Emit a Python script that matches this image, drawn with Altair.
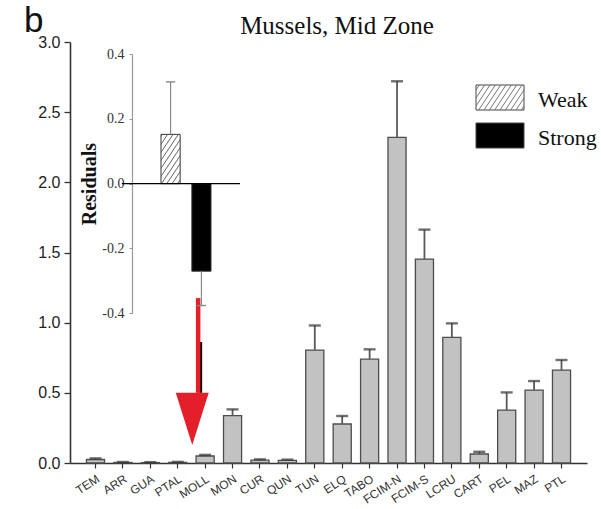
import numpy as np
import pandas as pd
import altair as alt

# ---------------- data ----------------
categories = ["TEM", "ARR", "GUA", "PTAL", "MOLL", "MON", "CUR", "QUN", "TUN",
              "ELQ", "TABO", "FCIM-N", "FCIM-S", "LCRU", "CART", "PEL", "MAZ", "PTL"]
means = [0.025, 0.004, 0.003, 0.005, 0.050, 0.337, 0.020, 0.018, 0.805,
         0.278, 0.740, 2.320, 1.453, 0.895, 0.064, 0.377, 0.520, 0.662]
errors = [0.008, 0.003, 0.003, 0.003, 0.008, 0.045, 0.006, 0.006, 0.175,
          0.057, 0.070, 0.400, 0.210, 0.100, 0.016, 0.126, 0.064, 0.072]

groups = ["Weak", "Strong"]
residuals = [0.152, -0.270]
residual_errors = [0.162, 0.106]

y_ticks = [0.0, 0.5, 1.0, 1.5, 2.0, 2.5, 3.0]
inset_ticks = [-0.4, -0.2, 0.0, 0.2, 0.4]
highlight = "MOLL"
title_text = "Mussels, Mid Zone"
panel_label = "b"

# ---------------- layout / style ----------------
W, H = 517, 421
SERIF = "Liberation Serif"
SANS = "Liberation Sans"
BAR_FILL = "#c2c2c2"
RED = "#e3202a"

INSET_X_DOMAIN = [0, 3.5]
INSET_X_RANGE = [62, 170]
INSET_Y_DOMAIN = [-0.4, 0.4]
INSET_Y_RANGE = [271.3, 12]
PXX = (INSET_X_RANGE[1] - INSET_X_RANGE[0]) / (INSET_X_DOMAIN[1] - INSET_X_DOMAIN[0])
PXY = (INSET_Y_RANGE[0] - INSET_Y_RANGE[1]) / (INSET_Y_DOMAIN[1] - INSET_Y_DOMAIN[0])


def hatch(w, h, slope=1.5, gap=8.0):
    segs = []
    c = -slope * w + gap / 2
    while c < h:
        xa = max(0.0, -c / slope)
        xb = min(w, (h - c) / slope)
        if xb > xa:
            segs.append((xa, slope * xa + c, xb, slope * xb + c))
        c += gap
    return segs


def xm():
    return alt.Scale(domain=categories, paddingInner=0.34, paddingOuter=0.6)


def ym():
    return alt.Scale(domain=[0, 3], nice=False)


def xi():
    return alt.Scale(domain=INSET_X_DOMAIN, range=INSET_X_RANGE, nice=False, zero=False)


def yi():
    return alt.Scale(domain=INSET_Y_DOMAIN, range=INSET_Y_RANGE, nice=False, zero=False)


# ---------------- main chart ----------------
main_df = pd.DataFrame({"cat": categories, "mean": means, "err": errors})
main_df["hi"] = main_df["mean"] + main_df["err"]

bars = alt.Chart(main_df).mark_bar(fill=BAR_FILL, stroke="#4d4d4d", strokeWidth=1.3).encode(
    x=alt.X("cat:N", scale=xm(), axis=alt.Axis(
        title=None, labelAngle=-33, labelAlign="right", labelBaseline="top",
        labelFont=SANS, labelFontSize=12, labelColor="#333", labelPadding=5,
        tickSize=5, tickColor="#333", tickWidth=1.2,
        domainColor="#333", domainWidth=1.6, grid=False)),
    y=alt.Y("mean:Q", scale=ym(), axis=alt.Axis(
        title=None, values=y_ticks, format=".1f",
        labelFont=SANS, labelFontSize=16, labelColor="#222", labelPadding=4,
        tickSize=6, tickColor="#333", tickWidth=1.3,
        domainColor="#333", domainWidth=1.6, grid=False)),
)

err_rule = alt.Chart(main_df).mark_rule(color="#5a5a5a", strokeWidth=1.8).encode(
    x=alt.X("cat:N", scale=xm(), axis=None),
    y=alt.Y("mean:Q", scale=ym(), axis=None),
    y2="hi:Q",
)
err_cap = alt.Chart(main_df).mark_tick(color="#333", thickness=2.4, size=12).encode(
    x=alt.X("cat:N", scale=xm(), axis=None),
    y=alt.Y("hi:Q", scale=ym(), axis=None),
)

arrow_df = pd.DataFrame({"cat": [highlight]})
arrow_black = alt.Chart(arrow_df).mark_rule(color="black", strokeWidth=3, xOffset=-4.5).encode(
    x=alt.X("cat:N", scale=xm(), axis=None),
    y=alt.Y(datum=0.862, scale=ym(), axis=None),
    y2=alt.Y2(datum=0.5),
)
arrow_red = alt.Chart(arrow_df).mark_rule(color=RED, strokeWidth=4.5, xOffset=-7).encode(
    x=alt.X("cat:N", scale=xm(), axis=None),
    y=alt.Y(datum=1.175, scale=ym(), axis=None),
    y2=alt.Y2(datum=0.5),
)
arrow_head = alt.Chart(arrow_df).mark_point(
    shape="M-1,-1.58L1,-1.58L0,1.58Z", size=33 * 33, filled=True,
    fill=RED, opacity=1, strokeWidth=0, xOffset=-7,
).encode(
    x=alt.X("cat:N", scale=xm(), axis=None),
    y=alt.Y(datum=0.314, scale=ym(), axis=None),
)

# ---------------- inset ----------------
idx = np.arange(len(groups))
inset_df = pd.DataFrame({"grp": groups, "v": residuals, "e": residual_errors})
inset_df["x0"] = idx + 0.94
inset_df["x1"] = idx + 1.56
inset_df["xc"] = idx + 1.25
inset_df["end"] = inset_df["v"] + np.sign(inset_df["v"]) * inset_df["e"]
inset_df["c0"] = inset_df["xc"] - 0.15
inset_df["c1"] = inset_df["xc"] + 0.15

inset_bars = alt.Chart(inset_df).mark_bar(stroke="#333", strokeWidth=1).encode(
    x=alt.X("x0:Q", scale=xi(), axis=None),
    x2="x1:Q",
    y=alt.Y("v:Q", scale=yi(), axis=alt.Axis(
        orient="left", offset=-62, values=inset_ticks,
        labelExpr="datum.value < 0 ? '-' + format(-datum.value, '.1f') : format(datum.value, '.1f')",
        labelFont=SERIF, labelFontSize=14, labelColor="#333", labelPadding=5,
        tickSize=3, tickColor="#999", tickWidth=1,
        domainColor="#999", domainWidth=1.2, grid=False,
        title="Residuals", titleFont=SERIF, titleFontWeight="bold",
        titleFontSize=20, titleColor="#111", titlePadding=2)),
    y2=alt.Y2(datum=0),
    fill=alt.Fill("grp:N", scale=alt.Scale(domain=groups, range=["white", "black"]), legend=None),
)

wrow = inset_df.iloc[0]
bw_px = (wrow["x1"] - wrow["x0"]) * PXX
bh_px = wrow["v"] * PXY
hs = hatch(bw_px, bh_px)
hatch_df = pd.DataFrame({
    "xa": [wrow["x0"] + s[0] / PXX for s in hs],
    "ya": [s[1] / PXY for s in hs],
    "xb": [wrow["x0"] + s[2] / PXX for s in hs],
    "yb": [s[3] / PXY for s in hs],
})
inset_hatch = alt.Chart(hatch_df).mark_rule(color="#555", strokeWidth=0.9).encode(
    x=alt.X("xa:Q", scale=xi(), axis=None), x2="xb:Q",
    y=alt.Y("ya:Q", scale=yi(), axis=None), y2="yb:Q",
)

zero_line = alt.Chart(pd.DataFrame({"a": [0]})).mark_rule(color="black", strokeWidth=1.3).encode(
    x=alt.X(datum=-0.33, scale=xi(), axis=None),
    x2=alt.X2(datum=INSET_X_DOMAIN[1]),
    y=alt.Y(datum=0, scale=yi(), axis=None),
)

inset_err = alt.Chart(inset_df).mark_rule(color="#888", strokeWidth=1.2).encode(
    x=alt.X("xc:Q", scale=xi(), axis=None),
    y=alt.Y("v:Q", scale=yi(), axis=None), y2="end:Q",
)
inset_cap = alt.Chart(inset_df).mark_rule(color="#888", strokeWidth=1.4).encode(
    x=alt.X("c0:Q", scale=xi(), axis=None), x2="c1:Q",
    y=alt.Y("end:Q", scale=yi(), axis=None),
)

# ---------------- legend, title, panel label (pixel layer) ----------------
LX, LY, LW, LH, LSTEP = 406, 43, 48, 25, 38
leg_df = pd.DataFrame({"grp": groups})
leg_df["x"] = LX
leg_df["x2"] = LX + LW
leg_df["y"] = LY + np.arange(len(groups)) * LSTEP
leg_df["y2"] = leg_df["y"] + LH
leg_df["tx"] = LX + LW + 14
leg_df["ty"] = leg_df["y"] + LH / 2 + 9

leg_boxes = alt.Chart(leg_df).mark_rect(stroke="#444", strokeWidth=1).encode(
    x=alt.X("x:Q", scale=None, axis=None), x2="x2:Q",
    y=alt.Y("y:Q", scale=None, axis=None), y2="y2:Q",
    fill=alt.Fill("grp:N", scale=alt.Scale(domain=groups, range=["white", "black"]), legend=None),
)
lhs = hatch(LW, LH, slope=1.5, gap=8.0)
leg_hatch_df = pd.DataFrame({
    "xa": [LX + s[0] for s in lhs],
    "ya": [LY + LH - s[1] for s in lhs],
    "xb": [LX + s[2] for s in lhs],
    "yb": [LY + LH - s[3] for s in lhs],
})
leg_hatch = alt.Chart(leg_hatch_df).mark_rule(color="#666", strokeWidth=0.9).encode(
    x=alt.X("xa:Q", scale=None, axis=None), x2="xb:Q",
    y=alt.Y("ya:Q", scale=None, axis=None), y2="yb:Q",
)
leg_text = alt.Chart(leg_df).mark_text(
    font=SERIF, fontSize=22, align="left", baseline="alphabetic", color="#111"
).encode(
    x=alt.X("tx:Q", scale=None, axis=None),
    y=alt.Y("ty:Q", scale=None, axis=None),
    text="grp:N",
)

title_mark = alt.Chart(pd.DataFrame({"t": [title_text]})).mark_text(
    font=SERIF, fontSize=25, align="center", baseline="alphabetic", color="#111"
).encode(x=alt.value(267), y=alt.value(-8), text="t:N")

label_mark = alt.Chart(pd.DataFrame({"t": [panel_label]})).mark_text(
    font=SANS, fontSize=35, align="left", baseline="alphabetic", color="#111"
).encode(x=alt.value(-46), y=alt.value(-10), text="t:N")

chart = alt.layer(
    bars, err_rule, err_cap, arrow_black, arrow_red, arrow_head,
    inset_bars, inset_hatch, zero_line, inset_err, inset_cap,
    leg_boxes, leg_hatch, leg_text, title_mark, label_mark,
).resolve_scale(
    x="independent", y="independent"
).properties(
    width=W, height=H,
    autosize=alt.AutoSizeParams(type="none"),
    padding={"left": 70, "top": 42, "right": 14, "bottom": 46},
).configure(background="white").configure_view(stroke=None)

chart.save("out.html", embed_options={"renderer": "svg", "actions": False})
